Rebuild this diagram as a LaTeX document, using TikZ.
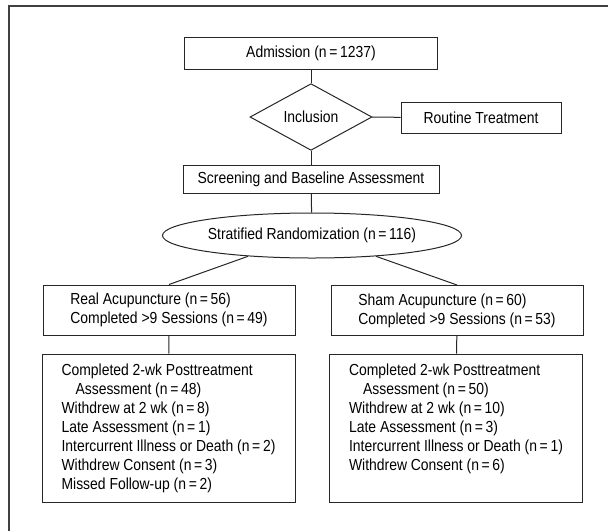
\documentclass[tikz,border=0pt]{standalone}
\usepackage{fontspec}
\setmainfont[FakeStretch=0.87]{Liberation Sans}
\usepackage{tikz}
\usetikzlibrary{shapes.geometric}
\def\ncount#1{(n\,=\,#1)}
\tikzset{
	flowtext/.style={font=\fontsize{16}{19}\selectfont},
	flowbox/.style={flowtext, draw=black!85, line width=1pt, rectangle, inner sep=0pt, align=center},
	armbox/.style={flowbox, align=left, minimum width=252pt, minimum height=50pt},
	outbox/.style={flowbox, align=left, minimum width=253pt, minimum height=148pt},
	decision/.style={flowtext, draw=black!85, line width=1pt, diamond, inner sep=0pt, minimum width=122pt, minimum height=48pt},
	randnode/.style={flowtext, draw=black!85, line width=1pt, ellipse, inner sep=0pt, minimum width=299pt, minimum height=45pt},
	link/.style={draw=black!85, line width=1pt},
	frameline/.style={draw=black!75, line width=2pt}
}

\begin{document}
\begin{tikzpicture}[x=1pt, y=-1pt]
		%%%%% START %%%%%
		\useasboundingbox (0,0) rectangle (608,531);
		
		% outer frame, cut off at right and bottom
		\draw[frameline] (608,6) -- (9,6) -- (9,531);
		
		\node[flowbox, minimum width=253pt, minimum height=32pt] (adm) at (311,53) {Admission \ncount{1237}};
		\node[decision] (inc) at (311,117) {Inclusion};
		\node[flowbox, minimum width=160pt, minimum height=31pt] (rout) at (481,117.5) {Routine Treatment};
		\node[flowbox, minimum width=256pt, minimum height=28pt] (scr) at (311,179) {Screening and Baseline Assessment};
		\node[randnode] (rand) at (312,235.5) {Stratified Randomization \ncount{116}};
		
		\node[armbox] (real) at (169,310) {Real Acupuncture \ncount{56}\\Completed >9 Sessions \ncount{49}};
		\node[armbox] (sham) at (457,310.5) {Sham Acupuncture \ncount{60}\\Completed >9 Sessions \ncount{53}};
		
		\node[outbox] (realout) at (168.5,428) {Completed 2-wk Posttreatment\\\hspace*{14pt}Assessment \ncount{48}\\Withdrew at 2 wk \ncount{8}\\Late Assessment \ncount{1}\\Intercurrent Illness or Death \ncount{2}\\Withdrew Consent \ncount{3}\\Missed Follow-up \ncount{2}};
		\node[outbox] (shamout) at (456,428) {Completed 2-wk Posttreatment\\\hspace*{14pt}Assessment \ncount{50}\\Withdrew at 2 wk \ncount{10}\\Late Assessment \ncount{3}\\Intercurrent Illness or Death \ncount{1}\\Withdrew Consent \ncount{6}\\\mbox{\vphantom{(}}};
		
		\draw[link] (adm) -- (inc);
		\draw[link] (inc) -- (rout);
		\draw[link] (inc) -- (scr);
		\draw[link] (scr) -- (rand);
		\draw[link] (rand.198) -- (real.north);
		\draw[link] (rand.342) -- (sham.north);
		\draw[link] (real) -- (realout);
		\draw[link] (sham) -- (shamout);
		
		%%%%% END %%%%%
	\end{tikzpicture}
\end{document}
